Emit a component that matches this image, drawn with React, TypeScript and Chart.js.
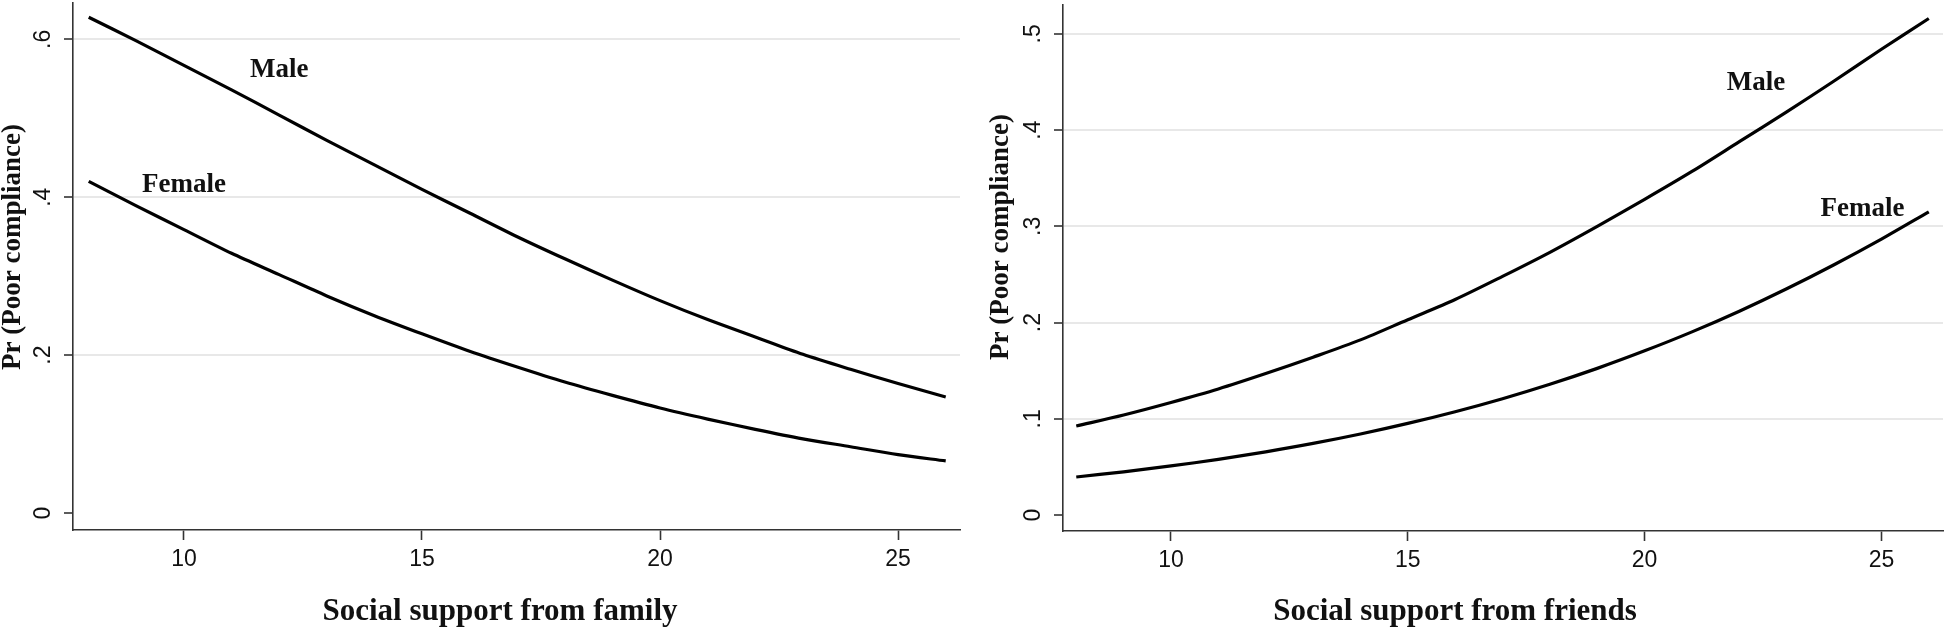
import React, { useEffect, useRef } from "react";
import { Chart, registerables } from "chart.js";

Chart.register(...registerables);

// ---------- data ----------
const xValues = [8, 9, 10, 11, 12, 13, 14, 15, 16, 17, 18, 19, 20, 21, 22, 23, 24, 25, 26];

const familyMale = [0.628, 0.598, 0.567, 0.536, 0.504, 0.472, 0.441, 0.41, 0.38, 0.35, 0.322, 0.295, 0.269, 0.245, 0.223, 0.201, 0.182, 0.164, 0.147];
const familyFemale = [0.42, 0.389, 0.359, 0.329, 0.302, 0.275, 0.25, 0.227, 0.205, 0.185, 0.166, 0.149, 0.133, 0.119, 0.106, 0.094, 0.084, 0.074, 0.066];

const friendsMale = [0.0925, 0.104, 0.117, 0.131, 0.147, 0.164, 0.182, 0.203, 0.224, 0.248, 0.273, 0.3, 0.328, 0.357, 0.388, 0.419, 0.451, 0.484, 0.516];
const friendsFemale = [0.0395, 0.0449, 0.051, 0.0579, 0.0657, 0.0744, 0.0842, 0.0952, 0.1074, 0.1209, 0.1359, 0.1524, 0.1706, 0.1903, 0.2118, 0.2351, 0.2601, 0.2867, 0.315];

const xTickValues = [10, 15, 20, 25];
const familyYTicks = [0, 0.2, 0.4, 0.6];
const friendsYTicks = [0, 0.1, 0.2, 0.3, 0.4, 0.5];

const familyLabels = [
  { text: "Male", x: 12.0, y: 0.561 },
  { text: "Female", x: 10.0, y: 0.415 },
];
const friendsLabels = [
  { text: "Male", x: 22.35, y: 0.449 },
  { text: "Female", x: 24.6, y: 0.318 },
];

const yTitle = "Pr (Poor compliance)";
const familyXTitle = "Social support from family";
const friendsXTitle = "Social support from friends";

// ---------- helpers ----------
const W = 973;
const H = 638;
const SERIF = '"Liberation Serif", "Times New Roman", serif';
const SANS = '"Liberation Sans", Arial, sans-serif';

function fmtY(v: number): string {
  if (v === 0) return "0";
  return String(v).replace(/^0/, "");
}

const annotate = {
  id: "annotate",
  afterDatasetsDraw(chart: any, _args: any, opts: any) {
    const { ctx } = chart;
    const xs = chart.scales.x;
    const ys = chart.scales.y;
    ctx.save();
    ctx.fillStyle = "#111";
    ctx.textAlign = "center";
    ctx.textBaseline = "middle";
    ctx.font = `bold ${opts.labelSize}px ${SERIF}`;
    for (const l of opts.labels) {
      ctx.fillText(l.text, xs.getPixelForValue(l.x), ys.getPixelForValue(l.y));
    }
    ctx.font = `bold ${opts.xTitleSize}px ${SERIF}`;
    ctx.fillText(opts.xTitle, opts.xTitleX, opts.xTitleY);
    ctx.translate(opts.yTitleX, opts.yTitleY);
    ctx.rotate(-Math.PI / 2);
    ctx.font = `bold ${opts.yTitleSize}px ${SERIF}`;
    ctx.fillText(opts.yTitle, 0, 0);
    ctx.restore();
  },
};

type PanelProps = {
  left: number;
  male: number[];
  female: number[];
  yTicks: number[];
  yMin: number;
  yMax: number;
  xMin: number;
  xMax: number;
  labels: { text: string; x: number; y: number }[];
  xTitle: string;
  yAxisWidth: number;
  top: number;
  rightPad: number;
  xAxisHeight: number;
  xTitleX: number;
  yTitleX: number;
  yTitleY: number;
};

function Panel(p: PanelProps) {
  const ref = useRef<HTMLCanvasElement | null>(null);
  useEffect(() => {
    if (!ref.current) return;
    const line = (data: number[]) => ({
      data: xValues.map((x, i) => ({ x, y: data[i] })),
      borderColor: "#000",
      borderWidth: 3.2,
      pointRadius: 0,
      tension: 0.3,
      fill: false,
    });
    const chart = new Chart(ref.current, {
      type: "line",
      data: { datasets: [line(p.male), line(p.female)] },
      options: {
        animation: false,
        responsive: false,
        devicePixelRatio: 1,
        layout: { padding: { left: 0, top: p.top, right: p.rightPad, bottom: 0 } },
        plugins: {
          legend: { display: false },
          tooltip: { enabled: false },
          annotate: {
            labels: p.labels,
            labelSize: 27,
            xTitle: p.xTitle,
            xTitleSize: 31,
            xTitleX: p.xTitleX,
            xTitleY: 612,
            yTitle: yTitle,
            yTitleSize: 27,
            yTitleX: p.yTitleX,
            yTitleY: p.yTitleY,
          },
        } as any,
        scales: {
          x: {
            type: "linear",
            min: p.xMin,
            max: p.xMax,
            afterBuildTicks: (s: any) => {
              s.ticks = xTickValues.map((v) => ({ value: v }));
            },
            afterFit: (s: any) => {
              s.height = p.xAxisHeight;
              s.paddingLeft = 0;
              s.paddingRight = 0;
              s.paddingTop = 0;
              s.paddingBottom = 0;
            },
            grid: {
              drawOnChartArea: false,
              drawTicks: true,
              tickLength: 10,
              tickColor: "#333",
              tickWidth: 1.6,
            },
            border: { display: true, color: "#333", width: 1.6 },
            ticks: {
              font: { family: SANS, size: 23 },
              color: "#111",
              padding: 6,
              maxRotation: 0,
              autoSkip: false,
              callback: (v: any) => String(v),
            },
          },
          y: {
            type: "linear",
            min: p.yMin,
            max: p.yMax,
            afterBuildTicks: (s: any) => {
              s.ticks = p.yTicks.map((v) => ({ value: v }));
            },
            afterFit: (s: any) => {
              s.width = p.yAxisWidth;
              s.paddingTop = 0;
              s.paddingBottom = 0;
              s.paddingLeft = 0;
              s.paddingRight = 0;
            },
            grid: {
              color: (c: any) => (c.tick && c.tick.value === 0 ? "rgba(0,0,0,0)" : "#e8e8e8"),
              lineWidth: 2,
              drawTicks: true,
              tickLength: 9,
              tickColor: "#333",
              tickWidth: 1.6,
            },
            border: { display: true, color: "#333", width: 1.6 },
            ticks: {
              font: { family: SANS, size: 23 },
              color: "#111",
              padding: 11,
              minRotation: 90,
              maxRotation: 90,
              crossAlign: "center",
              autoSkip: false,
              callback: (v: any) => fmtY(Number(v)),
            },
          },
        },
      },
      plugins: [annotate as any],
    } as any);
    return () => chart.destroy();
  }, []);
  return (
    <canvas
      ref={ref}
      width={W}
      height={H}
      style={{ position: "absolute", left: p.left, top: 0, width: W, height: H }}
    />
  );
}

export default function App() {
  return (
    <div style={{ position: "absolute", left: 0, top: 0, width: 1946, height: 638, background: "#fff" }}>
      <Panel
        left={0}
        male={familyMale}
        female={familyFemale}
        yTicks={familyYTicks}
        yMin={-0.0215}
        yMax={0.646}
        xMin={7.67}
        xMax={26.3}
        labels={familyLabels}
        xTitle={familyXTitle}
        yAxisWidth={73}
        top={3}
        rightPad={13}
        xAxisHeight={108}
        xTitleX={500}
        yTitleX={13}
        yTitleY={247}
      />
      <Panel
        left={973}
        male={friendsMale}
        female={friendsFemale}
        yTicks={friendsYTicks}
        yMin={-0.0166}
        yMax={0.53}
        xMin={7.72}
        xMax={26.3}
        labels={friendsLabels}
        xTitle={friendsXTitle}
        yAxisWidth={90}
        top={5}
        rightPad={3}
        xAxisHeight={107}
        xTitleX={482}
        yTitleX={28}
        yTitleY={237}
      />
    </div>
  );
}
